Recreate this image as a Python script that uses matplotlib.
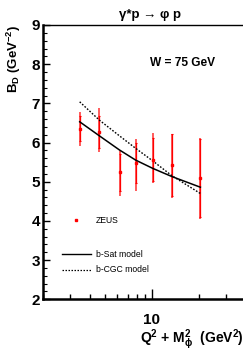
import matplotlib
matplotlib.use("Agg")
import matplotlib.pyplot as plt
from matplotlib.ticker import FixedLocator, NullFormatter, FixedFormatter

plt.rcParams['font.family'] = ['Liberation Sans', 'DejaVu Sans']
plt.rcParams['mathtext.fontset'] = 'custom'
plt.rcParams['mathtext.rm'] = 'Liberation Sans'
plt.rcParams['mathtext.bf'] = 'Liberation Sans:bold'
plt.rcParams['mathtext.it'] = 'Liberation Sans:italic'

# data
q2m2 = [3.44, 4.61, 6.20, 7.89, 10.15, 13.5, 20.5]
bd = [6.34, 6.28, 5.24, 5.47, 5.55, 5.43, 5.09]
tot_up = [6.77, 6.87, 5.78, 6.08, 6.25, 6.23, 6.12]
tot_dn = [5.92, 5.76, 4.63, 4.77, 4.96, 4.58, 4.04]
stat_up = [6.67, 6.69, 5.72, 5.98, 6.11, 6.22, 6.08]
stat_dn = [6.04, 5.85, 4.76, 4.96, 5.02, 4.64, 4.11]

bsat = [6.53, 6.17, 5.81, 5.55, 5.34, 5.13, 4.86]
bcgc = [7.04, 6.57, 6.17, 5.85, 5.53, 5.15, 4.70]

xticks_major = [10]
xticks_minor = [2, 3, 4, 5, 6, 7, 8, 9, 20, 30]

W, H = 243, 351
fig = plt.figure(figsize=(W/100, H/100), dpi=100)
left, right, bottom, top = 43, 245.6, 299.3, 25
ax = fig.add_axes([left/W, 1-bottom/H, (right-left)/W, (bottom-top)/H])
ax.set_xscale('log')
ax.set_xlim(2, 40)
ax.set_ylim(2, 9)

red = '#ff0000'
te_lo = [b - d for b, d in zip(bd, tot_dn)]
te_hi = [u - b for b, u in zip(bd, tot_up)]
se_lo = [b - d for b, d in zip(bd, stat_dn)]
se_hi = [u - b for b, u in zip(bd, stat_up)]
ax.errorbar(q2m2, bd, yerr=[te_lo, te_hi], fmt='none', ecolor='#ff5a5a', elinewidth=1.4, capsize=0)
ax.errorbar(q2m2, bd, yerr=[se_lo, se_hi], fmt='s', color=red, ms=1.8, mec=red,
            ecolor=red, elinewidth=0.9, capsize=1.0, capthick=0.8)

ax.plot(q2m2, bsat, color='black', lw=1.1, ls='-')
ax.plot(q2m2, bcgc, color='black', lw=1.0, ls=(0, (1.2, 1.2)))

def fx(px):
    return px / W
def fy(py):
    return 1 - py / H
fig.lines.append(plt.Line2D([fx(76.3)], [fy(220.3)], marker='s', ms=1.8, color=red, transform=fig.transFigure))
fig.text(fx(95.5), fy(220.3), 'ZEUS', fontsize=6.2, va='center', ha='left')
fig.lines.append(plt.Line2D([fx(61.7), fx(90.7)], [fy(254.3)]*2, color='black', lw=1.0, transform=fig.transFigure))
fig.text(fx(95.5), fy(254.3), 'b-Sat model', fontsize=6.2, va='center', ha='left')
fig.lines.append(plt.Line2D([fx(61.7), fx(90.7)], [fy(270)]*2, color='black', lw=0.9, ls=(0, (1.2, 1.2)), transform=fig.transFigure))
fig.text(fx(95.5), fy(270), 'b-CGC model', fontsize=6.2, va='center', ha='left')

ax.text(0.53, 0.86, 'W = 75 GeV', transform=ax.transAxes, fontsize=8.6, fontweight='bold', ha='left', va='center')

# ticks
ax.xaxis.set_major_locator(FixedLocator(xticks_major))
ax.xaxis.set_major_formatter(FixedFormatter(['10']))
ax.xaxis.set_minor_locator(FixedLocator(xticks_minor))
ax.xaxis.set_minor_formatter(NullFormatter())
ax.yaxis.set_major_locator(FixedLocator([2, 3, 4, 5, 6, 7, 8, 9]))
ax.yaxis.set_minor_locator(FixedLocator([2 + 0.2*i for i in range(36)]))
ax.tick_params(axis='both', which='major', direction='in', width=1.0)
ax.tick_params(axis='x', which='major', length=7, pad=10, labelsize=11)
ax.tick_params(axis='x', which='minor', direction='in', length=3.8, width=1.0)
ax.tick_params(axis='y', which='major', length=5, pad=2, labelsize=11)
ax.tick_params(axis='y', which='minor', direction='in', length=3, width=0.8)
for lab in ax.get_xticklabels() + ax.get_yticklabels():
    lab.set_fontweight('bold')

ax.spines['left'].set_linewidth(1.8)
ax.spines['bottom'].set_linewidth(1.8)
ax.spines['top'].set_linewidth(1.0)
ax.spines['right'].set_visible(False)

fig.text(fx(244), fy(340), r'Q$^\mathbf{2}$ + M$^\mathbf{2}_\mathbf{\phi}$  (GeV$^\mathbf{2}$)', fontsize=10,
         fontweight='bold', ha='right', va='center')
fig.text(fx(14), fy(25), r'B$_\mathbf{D}$ (GeV$^\mathbf{-2}$)', fontsize=9.5, fontweight='bold',
         rotation=90, ha='center', va='top')
fig.text(fx(150), fy(15), 'γ*p → φ p', fontsize=9.5, fontweight='bold',
         ha='center', va='center', family=['Liberation Sans', 'DejaVu Sans'])

fig.savefig('out.png', dpi=100)
